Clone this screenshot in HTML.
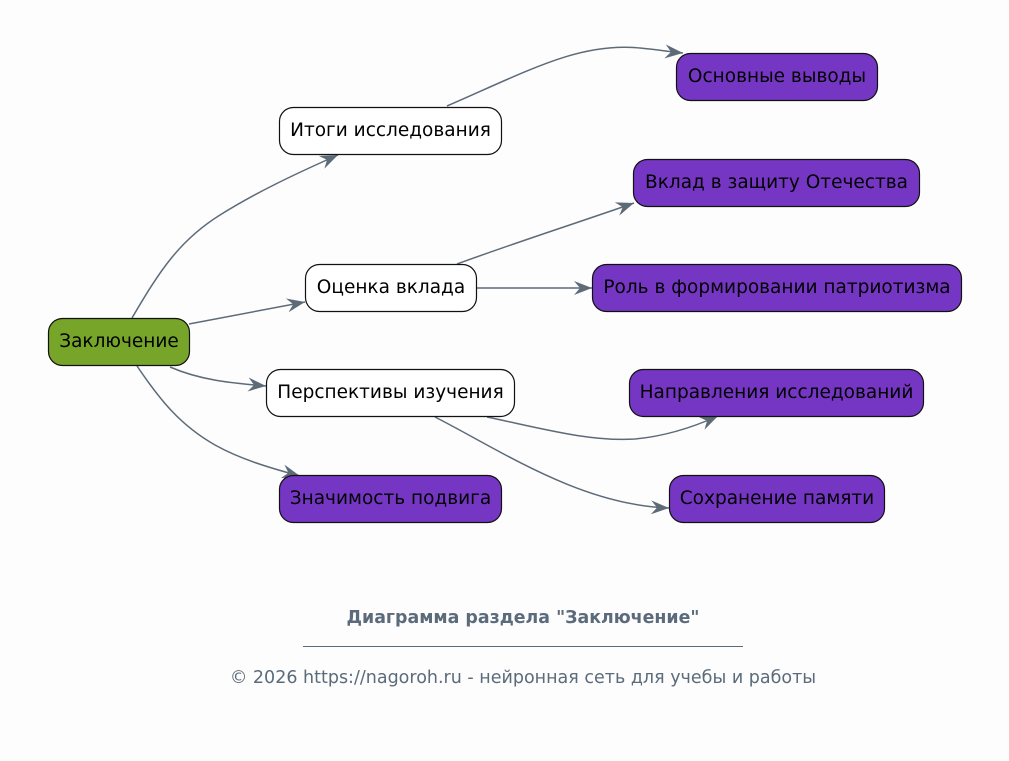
<!DOCTYPE html>
<html><head><meta charset="utf-8"><style>
html,body{margin:0;padding:0;background:#fdfdfd;}
svg{display:block;}
text{font-family:"DejaVu Sans","Liberation Sans",sans-serif;}
</style></head><body>
<svg width="1009" height="761" viewBox="0 0 1009 761" xmlns="http://www.w3.org/2000/svg">
<defs>
<marker id="v" viewBox="0 0 18 14" refX="18" refY="7" markerWidth="18" markerHeight="14" markerUnits="userSpaceOnUse" orient="auto">
<path d="M0,0 L18,7 L0,14 L6,7 Z" fill="#5d6b79"/>
</marker>
</defs>
<rect width="1009" height="761" fill="#fdfdfd"/>
<g fill="none" stroke="#5d6b79" stroke-width="1.5" marker-end="url(#v)">
<path d="M132,318 C160,270 180,240 220,215 C255,193 295,174 338,155"/>
<path d="M189,324 L305,302"/>
<path d="M170,367 C200,380 230,383 266,386"/>
<path d="M137,366 C160,400 180,425 215,445 C240,459 270,468 300,476"/>
<path d="M447,106 C530,70 580,42 640,48 C660,50 672,52 683,53"/>
<path d="M457,264 C520,241 580,222 634,203"/>
<path d="M476,288 L592,288"/>
<path d="M487,417 C540,428 590,442 635,439 C668,436 698,425 718,416"/>
<path d="M435,417 C500,450 580,505 669,508"/>
</g>
<g stroke="#111" stroke-width="1.2">
<rect x="48.5" y="318.5" width="141" height="47" rx="14" fill="#77a52a"/>
<rect x="279.5" y="107.5" width="222" height="47" rx="14" fill="#ffffff"/>
<rect x="305.5" y="264.5" width="171" height="47" rx="14" fill="#ffffff"/>
<rect x="266.5" y="369.5" width="248" height="47" rx="14" fill="#ffffff"/>
<rect x="279.5" y="475.5" width="222" height="47" rx="14" fill="#7636c4"/>
<rect x="676.5" y="53.5" width="201" height="47" rx="14" fill="#7636c4"/>
<rect x="633.5" y="159.5" width="286" height="47" rx="14" fill="#7636c4"/>
<rect x="592.5" y="264.5" width="369" height="47" rx="14" fill="#7636c4"/>
<rect x="629.5" y="369.5" width="294" height="47" rx="14" fill="#7636c4"/>
<rect x="669.5" y="475.5" width="215" height="47" rx="14" fill="#7636c4"/>
</g>
<g font-size="18.5" fill="#000" text-anchor="middle">
<text x="119" y="347">Заключение</text>
<text x="390.5" y="136">Итоги исследования</text>
<text x="391" y="293">Оценка вклада</text>
<text x="390.5" y="398">Перспективы изучения</text>
<text x="390.5" y="504">Значимость подвига</text>
<text x="777" y="82">Основные выводы</text>
<text x="776.5" y="188">Вклад в защиту Отечества</text>
<text x="777" y="293">Роль в формировании патриотизма</text>
<text x="776.5" y="398">Направления исследований</text>
<text x="777" y="504">Сохранение памяти</text>
</g>
<g fill="#5b6b7b" text-anchor="middle">
<text x="523" y="623" font-size="17.4" font-weight="bold">Диаграмма раздела "Заключение"</text>
<line x1="303" y1="646.5" x2="743" y2="646.5" stroke="#5b6b7b" stroke-width="1"/>
<text x="523" y="683" font-size="17.5">© 2026 https://nagoroh.ru - нейронная сеть для учебы и работы</text>
</g>
</svg>
</body></html>
